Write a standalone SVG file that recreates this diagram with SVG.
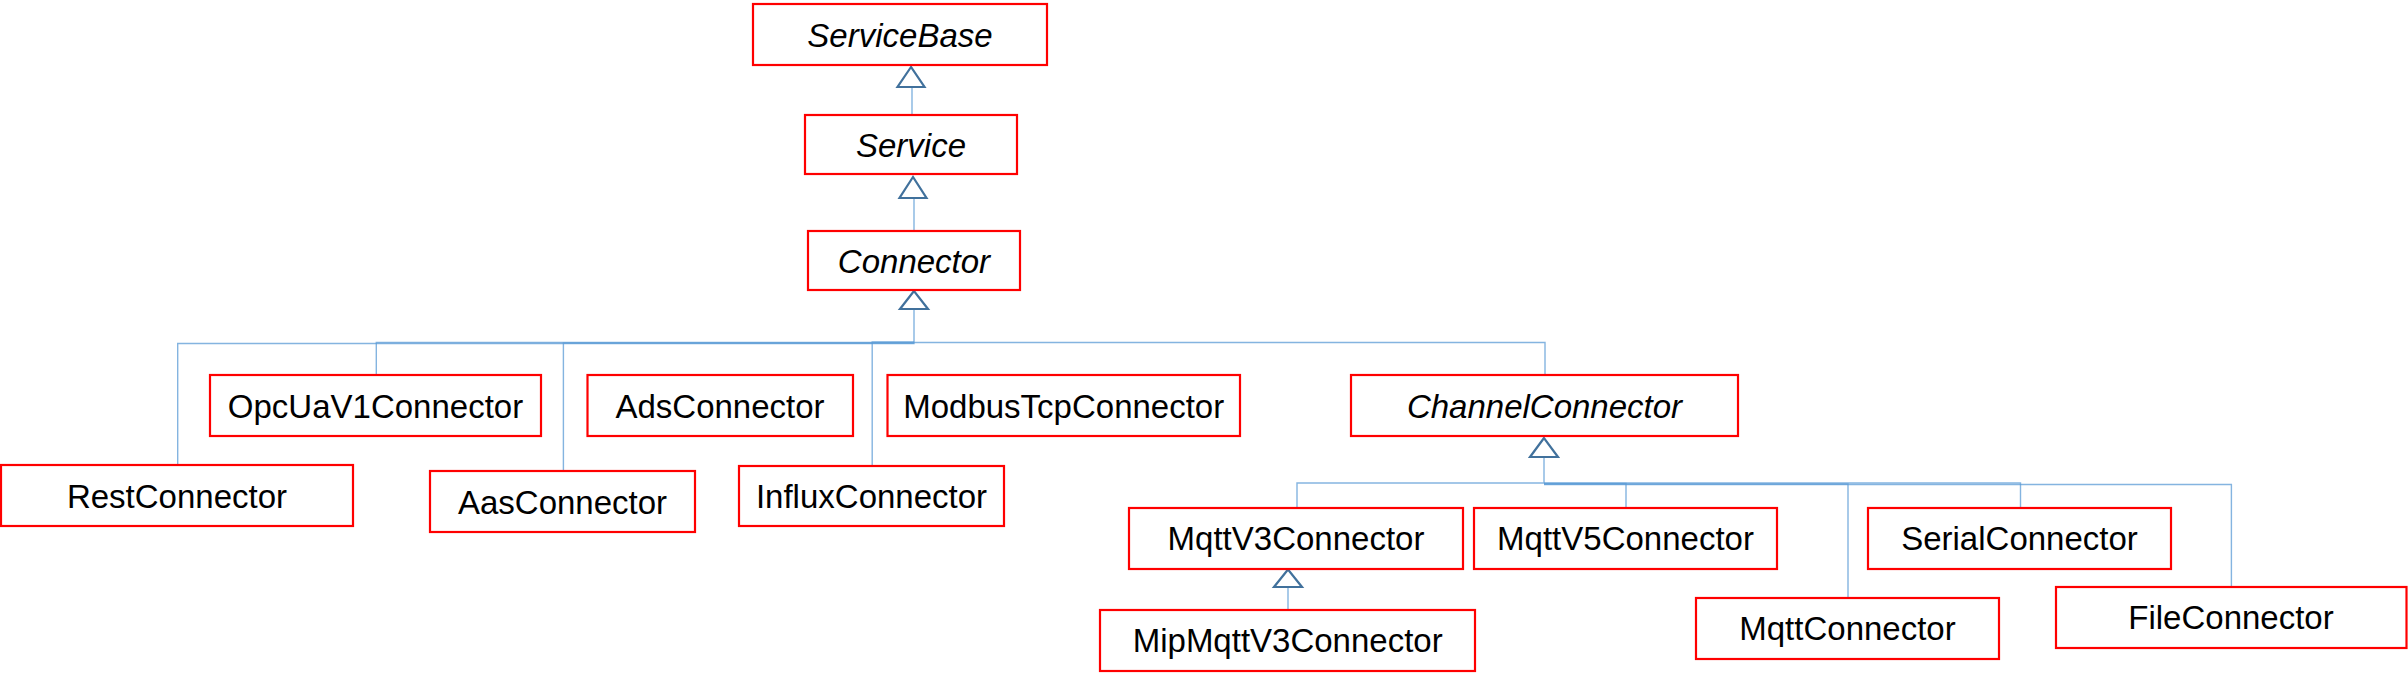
<svg xmlns="http://www.w3.org/2000/svg" width="2408" height="686" viewBox="0 0 2408 686">
<style>
.box{fill:#fff;stroke:#ff0000;stroke-width:2.2}
.t{font-family:"Liberation Sans",Arial,sans-serif;font-size:33px;fill:#000;text-anchor:middle}
.i{font-style:italic}
.ln{fill:none;stroke:#5b9bd5;stroke-width:1.4;stroke-opacity:0.75}
.tri{fill:#fff;stroke:#41719c;stroke-width:2.2;stroke-linejoin:miter}
</style>
<rect width="2408" height="686" fill="#fff"/>
<g id="connectors">
<path class="ln" d="M912 87 V115"/>
<path class="ln" d="M914 198 V231"/>
<path class="ln" d="M177.7 465 V343.5 H914 V309"/>
<path class="ln" d="M376.3 375 V342.5 H914"/>
<path class="ln" d="M563.4 471 V343 H914"/>
<path class="ln" d="M872.2 466 V342 H914"/>
<path class="ln" d="M1545 375 V342.5 H914"/>
<path class="ln" d="M1297 508 V483 H1544 V457"/>
<path class="ln" d="M1626 508 V483.5 H1544"/>
<path class="ln" d="M1848 598 V484 H1544"/>
<path class="ln" d="M2020.5 508 V483 H1544"/>
<path class="ln" d="M2231.4 587 V484.5 H1544"/>
<path class="ln" d="M1288 610 V587"/>
<polygon class="tri" points="911,67 897.5,87 924.5,87"/>
<polygon class="tri" points="913,177 899.5,198 926.5,198"/>
<polygon class="tri" points="914,291 900,309 928,309"/>
<polygon class="tri" points="1544,438 1530,457 1558,457"/>
<polygon class="tri" points="1288,569.5 1274,587 1302,587"/>
</g>
<g id="ServiceBase"><rect class="box" x="753" y="4" width="294" height="61"/><text class="t i" x="900" y="46.5">ServiceBase</text></g>
<g id="Service"><rect class="box" x="805" y="115" width="212" height="59"/><text class="t i" x="911" y="156.5">Service</text></g>
<g id="Connector"><rect class="box" x="808" y="231" width="212" height="59"/><text class="t i" x="914" y="272.5">Connector</text></g>
<g id="RestConnector"><rect class="box" x="1" y="465" width="352" height="61"/><text class="t" x="177" y="507.5">RestConnector</text></g>
<g id="OpcUaV1Connector"><rect class="box" x="210" y="375" width="331" height="61"/><text class="t" x="375.5" y="417.5">OpcUaV1Connector</text></g>
<g id="AasConnector"><rect class="box" x="430" y="471" width="265" height="61"/><text class="t" x="562.5" y="513.5">AasConnector</text></g>
<g id="AdsConnector"><rect class="box" x="587.5" y="375" width="265.5" height="61"/><text class="t" x="720" y="417.5">AdsConnector</text></g>
<g id="InfluxConnector"><rect class="box" x="739" y="466" width="265" height="60"/><text class="t" x="871.5" y="508">InfluxConnector</text></g>
<g id="ModbusTcpConnector"><rect class="box" x="887.5" y="375" width="352.5" height="61"/><text class="t" x="1063.7" y="417.5">ModbusTcpConnector</text></g>
<g id="ChannelConnector"><rect class="box" x="1351" y="375" width="387" height="61"/><text class="t i" x="1544.5" y="417.5">ChannelConnector</text></g>
<g id="MqttV3Connector"><rect class="box" x="1129" y="508" width="334" height="61"/><text class="t" x="1296" y="550">MqttV3Connector</text></g>
<g id="MqttV5Connector"><rect class="box" x="1474" y="508" width="303" height="61"/><text class="t" x="1625.5" y="550">MqttV5Connector</text></g>
<g id="SerialConnector"><rect class="box" x="1868" y="508" width="303" height="61"/><text class="t" x="2019.5" y="550">SerialConnector</text></g>
<g id="MipMqttV3Connector"><rect class="box" x="1100" y="610" width="375" height="61"/><text class="t" x="1287.7" y="652">MipMqttV3Connector</text></g>
<g id="MqttConnector"><rect class="box" x="1696" y="598" width="303" height="61"/><text class="t" x="1847.5" y="640">MqttConnector</text></g>
<g id="FileConnector"><rect class="box" x="2056" y="587" width="350.5" height="61"/><text class="t" x="2231" y="629">FileConnector</text></g>
</svg>
